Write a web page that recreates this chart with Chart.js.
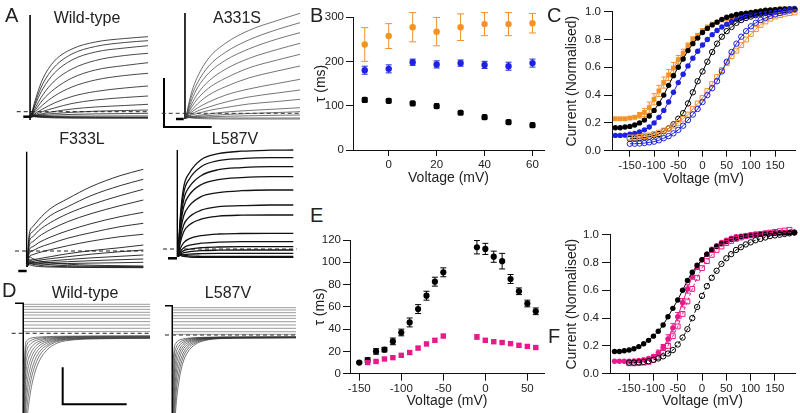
<!DOCTYPE html>
<html>
<head>
<meta charset="utf-8">
<script src="https://cdn.jsdelivr.net/npm/chart.js@4.4.1/dist/chart.umd.min.js"></script>
<style>
  html, body { margin: 0; padding: 0; background: #fff; }
  #fig { position: relative; width: 800px; height: 413px; overflow: hidden; font-family: 'Liberation Sans', Arial, sans-serif; color: #222; }
  #fig canvas { position: absolute; }
  .letter { position: absolute; font-size: 20px; line-height: 20px; z-index: 2; }
  .name { position: absolute; font-size: 16px; line-height: 16px; transform: translateX(-50%); white-space: nowrap; z-index: 2; }
</style>
</head>
<body>
<div id="fig">
  <div class="letter" style="left:5px;top:5px">A</div>
  <div class="letter" style="left:310px;top:5px">B</div>
  <div class="letter" style="left:547px;top:5px">C</div>
  <div class="letter" style="left:2px;top:280px">D</div>
  <div class="letter" style="left:310px;top:205px">E</div>
  <div class="letter" style="left:548px;top:326px">F</div>
  <div class="name" style="left:87px;top:10px">Wild-type</div>
  <div class="name" style="left:237px;top:10px">A331S</div>
  <div class="name" style="left:82px;top:131px">F333L</div>
  <div class="name" style="left:235px;top:131px">L587V</div>
  <div class="name" style="left:85px;top:285px">Wild-type</div>
  <div class="name" style="left:228px;top:285px">L587V</div>
</div>
<script>
// ---- panel B: activation tau vs voltage ----
const V_B = [-10, 0, 10, 20, 30, 40, 50, 60];
const B_BLACK = [113, 111, 105, 99, 84, 74, 63, 56];
const B_BLACK_ERR = [5, 4, 4, 5, 3, 3, 2, 2];
const B_BLUE = [180, 183, 198, 193, 196, 192, 189, 196];
const B_BLUE_ERR = [9, 9, 7, 8, 7, 8, 9, 9];
const B_ORANGE = [238, 257, 277, 267, 277, 284, 284, 286];
const B_ORANGE_ERR = [38, 28, 33, 32, 30, 26, 26, 22];
const B_XTICKS = [0, 20, 40, 60];
const B_YTICKS = [0, 100, 200, 300];

// ---- panels C and F: normalised current vs voltage ----
const V_FULL = [-180, -170, -160, -150, -140, -130, -120, -110, -100, -90, -80, -70, -60, -50, -40, -30, -20, -10,
  0, 10, 20, 30, 40, 50, 60, 70, 80, 90, 100, 110, 120, 130, 140, 150, 160, 170, 180, 190];
const V_OPEN = [-150, -140, -130, -120, -110, -100, -90, -80, -70, -60, -50, -40, -30, -20, -10,
  0, 10, 20, 30, 40, 50, 60, 70, 80, 90, 100, 110, 120, 130, 140, 150, 160, 170, 180, 190];
const C_ORANGE_FILLED = [0.23, 0.23, 0.23, 0.235, 0.24, 0.255, 0.275, 0.31, 0.37, 0.43, 0.49, 0.545, 0.595, 0.655, 0.70, 0.755, 0.80, 0.83,
  0.865, 0.89, 0.91, 0.925, 0.94, 0.95, 0.96, 0.97, 0.98, 0.985, 0.99, 0.995, 1.0, 1.005, 1.01, 1.015, 1.02, 1.02, 1.02, 1.02];
const C_ORANGE_ERR = [0, 0, 0, 0, 0, 0.02, 0.03, 0.04, 0.04, 0.04, 0.04, 0.04, 0.04, 0.03, 0.03, 0.02, 0.02, 0.01,
  0, 0, 0, 0, 0, 0, 0, 0, 0, 0, 0, 0, 0, 0, 0, 0, 0, 0, 0, 0];
const C_BLACK_FILLED = [0.165, 0.165, 0.17, 0.175, 0.185, 0.20, 0.22, 0.25, 0.29, 0.34, 0.40, 0.47, 0.54, 0.60, 0.66, 0.72, 0.77, 0.81,
  0.85, 0.88, 0.905, 0.925, 0.945, 0.96, 0.97, 0.98, 0.985, 0.99, 0.995, 1.0, 1.005, 1.01, 1.012, 1.015, 1.018, 1.02, 1.02, 1.02];
const C_BLUE_FILLED = [0.11, 0.11, 0.112, 0.118, 0.125, 0.135, 0.15, 0.17, 0.20, 0.24, 0.29, 0.35, 0.42, 0.49, 0.55, 0.61, 0.665, 0.715,
  0.76, 0.80, 0.835, 0.865, 0.89, 0.91, 0.93, 0.945, 0.955, 0.965, 0.975, 0.98, 0.985, 0.99, 0.995, 1.0, 1.005, 1.01, 1.02, 1.03];
const C_BLACK_OPEN = [0.085, 0.087, 0.09, 0.095, 0.10, 0.11, 0.12, 0.14, 0.16, 0.19, 0.23, 0.27, 0.34, 0.42, 0.50,
  0.57, 0.64, 0.71, 0.77, 0.82, 0.86, 0.89, 0.92, 0.94, 0.955, 0.965, 0.975, 0.985, 0.99, 0.995, 1.0, 1.005, 1.01, 1.01, 1.015];
const C_ORANGE_OPEN = [0.095, 0.095, 0.10, 0.105, 0.11, 0.12, 0.13, 0.145, 0.16, 0.18, 0.20, 0.23, 0.26, 0.30, 0.34,
  0.38, 0.43, 0.48, 0.53, 0.58, 0.63, 0.68, 0.72, 0.76, 0.80, 0.84, 0.875, 0.905, 0.93, 0.95, 0.965, 0.975, 0.985, 0.99, 0.995];
const C_BLUE_OPEN = [0.05, 0.05, 0.052, 0.055, 0.06, 0.065, 0.075, 0.09, 0.105, 0.125, 0.15, 0.18, 0.22, 0.26, 0.30,
  0.35, 0.40, 0.45, 0.50, 0.57, 0.64, 0.71, 0.77, 0.82, 0.86, 0.895, 0.92, 0.94, 0.955, 0.97, 0.98, 0.99, 1.0, 1.01, 1.02];
const F_BLACK_FILLED = [0.16, 0.16, 0.165, 0.17, 0.18, 0.195, 0.215, 0.24, 0.27, 0.305, 0.35, 0.41, 0.47, 0.53, 0.60, 0.67, 0.73, 0.78,
  0.82, 0.86, 0.89, 0.915, 0.935, 0.95, 0.965, 0.975, 0.985, 0.99, 0.995, 1.0, 1.003, 1.006, 1.008, 1.01, 1.012, 1.013, 1.014, 1.015];
const F_BLACK_OPEN = [0.08, 0.08, 0.082, 0.085, 0.09, 0.10, 0.11, 0.125, 0.145, 0.17, 0.21, 0.26, 0.32, 0.40, 0.48,
  0.56, 0.63, 0.69, 0.74, 0.79, 0.83, 0.86, 0.89, 0.91, 0.93, 0.945, 0.96, 0.97, 0.98, 0.99, 0.995, 1.0, 1.005, 1.01, 1.015];
const F_MAG_FILLED = [0.09, 0.09, 0.09, 0.09, 0.092, 0.095, 0.10, 0.11, 0.125, 0.15, 0.19, 0.25, 0.33, 0.41, 0.51, 0.61, 0.70, 0.77,
  0.82, 0.86, 0.895, 0.92, 0.945, 0.96, 0.975, 0.985, 0.99, 0.995, 1.0, 1.005, 1.008, 1.01, 1.012, 1.014, 1.015, 1.016, 1.017, 1.018];
const F_MAG_ERR = [0, 0, 0, 0, 0, 0, 0, 0, 0.01, 0.02, 0.02, 0.03, 0.03, 0.03, 0.03, 0.03, 0.02, 0.02,
  0, 0, 0, 0, 0, 0, 0, 0, 0, 0, 0, 0, 0, 0, 0, 0, 0, 0, 0, 0];
const F_MAG_OPEN = [0.075, 0.075, 0.077, 0.08, 0.085, 0.10, 0.12, 0.15, 0.20, 0.27, 0.34, 0.43, 0.52, 0.61, 0.69,
  0.76, 0.81, 0.855, 0.89, 0.915, 0.94, 0.955, 0.97, 0.98, 0.99, 0.995, 1.0, 1.005, 1.01, 1.015, 1.02, 1.025, 1.03, 1.035, 1.04];
const CF_XTICKS = [-150, -100, -50, 0, 50, 100, 150];
const CF_YTICKS = [0, 0.2, 0.4, 0.6, 0.8, 1.0];

// ---- panel E: tau vs voltage ----
const V_E_NEG = [-150, -140, -130, -120, -110, -100, -90, -80, -70, -60, -50];
const E_BLACK_NEG = [10, 12.3, 20, 21.6, 29, 37, 46, 58, 70, 82.6, 91];
const E_BLACK_NEG_ERR = [1, 2, 2.5, 2, 3, 3, 4, 4, 4, 4, 4];
const V_E_POS = [-10, 0, 10, 20, 30, 40, 50, 60];
const E_BLACK_POS = [113.5, 112, 105, 101, 85, 74, 63, 56];
const E_BLACK_POS_ERR = [6, 5, 5, 7, 4, 3, 3, 3];
const V_E_MAG_NEG = [-140, -130, -120, -110, -100, -90, -80, -70, -60, -50];
const E_MAG_NEG = [10, 11, 13.2, 14.4, 16.5, 19, 23, 26.7, 30, 33.8];
const E_MAG_NEG_ERR = [0.8, 0.8, 1, 1, 1, 1.2, 1.5, 1.5, 1.5, 1.5];
const E_MAG_POS = [33, 30, 28.7, 28, 27, 25.5, 24.5, 23.5];
const E_MAG_POS_ERR = [2, 1.5, 1.2, 1, 1, 1, 1, 1];
const E_XTICKS = [-150, -100, -50, 0, 50];
const E_YTICKS = [0, 20, 40, 60, 80, 100, 120];

// ---- panels A and D: current traces (time in ms, current in arbitrary units) ----
const T_ACT = [0, 20, 50, 100, 200, 350, 550, 800, 1000];
const WT_A = [
  [0, 10, 22, 38, 56, 68, 75, 78.5, 80.3],
  [0, 8, 19, 33, 50, 63, 70.5, 74.5, 76.3],
  [0, 7, 16, 28, 44, 57, 65, 69, 71.3],
  [0, 5, 12, 22, 36, 48, 56.5, 61.5, 63.7],
  [0, 4, 9, 17, 28, 39, 47, 51.5, 54.3],
  [0, 3, 6.5, 12, 21, 30, 37, 41.5, 43.7],
  [0, 2, 4.5, 8, 14, 20.5, 25.5, 29, 31],
  [0, 1.5, 3, 5.5, 9, 13.5, 17, 19.5, 21],
  [0, 1, 2, 3.5, 5.5, 8, 10, 11.5, 12.7],
  [0, 0.8, 1.5, 2.5, 3.5, 4.7, 5.8, 6.5, 7],
  [0, 0.5, 1, 1.5, 2, 2.6, 3.1, 3.4, 3.7],
  [0, 0.3, 0.5, 0.6, 0.7, 0.8, 0.9, 1, 1],
  [6, 3, 1.5, 0.8, 0.3, 0, -0.2, -0.3, -0.3],
  [4, 1.5, 0.5, 0, -0.4, -0.6, -0.7, -0.7, -0.7],
  [3, 0.8, 0, -0.5, -0.9, -1.1, -1.2, -1.2, -1.2]
];
const A331S_A = [
  [0, 12, 26, 41, 60, 75, 87.5, 97.5, 104.7],
  [0, 10, 22, 35, 52, 66, 78, 88.5, 95.3],
  [0, 8, 18, 30, 45, 58, 69, 79, 85.3],
  [0, 6, 14, 24, 37, 49, 59.5, 68.5, 74.7],
  [0, 5, 11, 19, 30, 40, 50, 58, 63.7],
  [0, 4, 8, 14, 23, 31.5, 40, 47, 52],
  [0, 3, 6, 10, 16, 23, 29, 34.5, 38.7],
  [0, 2, 4, 7, 11, 16, 21, 25, 28],
  [0, 1.5, 3, 4.5, 7.5, 10.5, 14, 16.5, 18.7],
  [0, 1, 1.5, 2.5, 4, 6, 7.5, 9, 10.3],
  [0, 0.5, 1, 1.5, 2.5, 3.5, 4.5, 5.5, 6.3],
  [0, 0.3, 0.5, 0.8, 1.2, 1.7, 2.2, 2.7, 3],
  [5, 2.5, 1.2, 0.5, 0.2, 0, 0, 0, 0],
  [3, 1, 0, -0.5, -0.8, -1, -1, -1, -1]
];
const F333L_A = [
  [0, 33, 40, 47, 58, 68, 80, 91, 97.4],
  [0, 29, 35, 41, 51, 60, 71, 81, 87.4],
  [0, 25, 30, 36, 44, 53, 62, 71, 77.4],
  [0, 21, 25, 30, 37, 45, 53, 61, 66.7],
  [0, 17, 20, 24, 29.5, 36, 43, 50, 54.4],
  [0, 13.5, 16, 19, 23, 28.5, 34, 40, 43.4],
  [0, 10, 12, 14, 17, 21, 25.5, 30, 32.4],
  [0, 6, 7, 8, 10, 13, 16, 19, 21.7],
  [0, 5, 5.5, 6.5, 8, 10, 12.5, 15, 16.7],
  [0, 4, 4.2, 4.8, 5.8, 7.2, 8.8, 10.4, 11.7],
  [0, 3.5, 3.5, 3.8, 4.3, 5, 6, 7, 7.7],
  [0, 3, 2.8, 2.6, 2.8, 3.2, 3.6, 4, 4.4],
  [0, 10, 8, 6, 4, 2.5, 1.5, 1, 0.7],
  [0, 7, 5, 3.5, 2, 1, 0.5, 0.2, 0],
  [0, 4, 2.5, 1.5, 0.5, 0, -0.3, -0.4, -0.5],
  [0, 2, 1, 0.2, -0.3, -0.6, -0.8, -0.9, -1]
];
const L587V_A = [
  [0, 40, 70, 84, 97, 103, 105.5, 106.5, 106.7],
  [0, 36, 64, 78, 90, 96, 98, 99, 99],
  [0, 32, 57, 70, 81, 87, 89, 90, 90],
  [0, 28, 50, 62, 72, 77, 79, 80, 80],
  [0, 23, 41, 51, 60, 64, 66, 66.7, 66.7],
  [0, 18, 32, 40, 46.5, 50, 51, 51.7, 51.7],
  [0, 14, 25, 32, 37.5, 40.5, 41.5, 41.7, 41.7],
  [0, 8, 14, 18, 21, 22.7, 23.2, 23.4, 23.4],
  [0, 5, 9, 11.5, 13.5, 14.5, 15, 15, 15],
  [0, 3.5, 6, 7.5, 9, 9.7, 10, 10, 10],
  [0, 2.5, 4, 5, 6, 6.5, 6.7, 6.7, 6.7],
  [0, 1.5, 2, 2.6, 3, 3.3, 3.4, 3.4, 3.4],
  [6, 3, 1.5, 0.8, 0.4, 0.2, 0.2, 0.2, 0.2],
  [4, 1.5, 0.3, -0.3, -0.6, -0.7, -0.7, -0.7, -0.7]
];
const T_DEACT = [0, 10, 25, 50, 80, 120, 180, 260, 400, 600, 1000];
const WT_D_TAILS = [
  [-130, -110, -85, -60, -42, -28, -17, -10, -6.5, -5.5, -5],
  [-120, -95, -72, -50, -35, -23, -14, -8.5, -6, -5.2, -4.8],
  [-110, -82, -60, -42, -29, -19, -12, -7.5, -5.5, -5, -4.6],
  [-100, -70, -50, -34, -23, -15.5, -10, -6.8, -5.2, -4.7, -4.4],
  [-90, -58, -40, -27, -18.5, -12.5, -8.5, -6, -4.8, -4.4, -4.1],
  [-80, -47, -31, -21, -14.5, -10, -7.2, -5.3, -4.4, -4.1, -3.8],
  [-70, -37, -23, -15.5, -11, -8, -6, -4.7, -4, -3.7, -3.5],
  [-60, -28, -16, -11, -8, -6.2, -5, -4.2, -3.6, -3.3, -3.1],
  [-50, -20, -11, -7.5, -5.8, -4.8, -4.1, -3.6, -3.2, -3, -2.8],
  [-40, -13, -7, -5, -4.2, -3.7, -3.3, -3, -2.8, -2.6, -2.5]
];
const WT_D_FLAT = [29, 26.7, 24, 21, 18.3, 15, 11.7, 8.3, 5, 1.7];
const L587V_D_TAILS = [
  [-130, -100, -70, -45, -28, -17, -9.5, -5.5, -3.5, -3, -2.8],
  [-115, -85, -58, -37, -23, -14, -8, -4.8, -3.3, -2.9, -2.7],
  [-100, -72, -48, -30, -19, -11.5, -6.8, -4.3, -3.1, -2.8, -2.6],
  [-88, -60, -39, -24, -15, -9.5, -5.8, -3.9, -2.9, -2.7, -2.5],
  [-76, -49, -31, -19, -12, -7.7, -5, -3.5, -2.8, -2.6, -2.4],
  [-64, -39, -24, -15, -9.5, -6.3, -4.3, -3.2, -2.6, -2.4, -2.3],
  [-52, -30, -18, -11, -7.3, -5, -3.7, -2.9, -2.4, -2.3, -2.2],
  [-40, -21, -12.5, -8, -5.5, -4, -3.1, -2.6, -2.2, -2.1, -2],
  [-28, -13, -8, -5.3, -4, -3.2, -2.6, -2.3, -2, -1.9, -1.8]
];
const L587V_D_FLAT = [27.3, 25, 22.3, 19.3, 16.7, 13.3, 10, 6.7, 3.3, 0.7];

// spikes, holding levels, zero-current lines and scale bars, in each panel's units
const WT_A_SPIKE = [[-8, -3], [-8, 102]];
const WT_A_HOLD = [[-66, 0.3], [-8, 0.3]];
const WT_A_ZERO = [[-122, 5.3], [1000, 5.3]];
const A331S_SPIKE = [[-9, -1], [-9, 105]];
const A331S_HOLD = [[-88, -1], [-20, -1]];
const A331S_ZERO = [[-213, 4.7], [1000, 4.7]];
const A331S_BAR = [[-193, 40], [-193, -9], [225, -9]];
const F333L_SPIKE = [[-3, 2], [-3, 115]];
const F333L_HOLD = [[-75, -4.3], [-3, -4.3]];
const F333L_ZERO = [[-103, 15.7], [1000, 15.7]];
const L587V_A_SPIKE = [[-6, 0], [-6, 106.7]];
const L587V_A_HOLD = [[-87, -1.6], [-9, -1.6]];
const L587V_A_ZERO = [[-130, 7.7], [1029, 7.7]];
const WT_D_STEP = [[-71, 30], [-6, 30], [-6, -85]];
const WT_D_ZERO = [[-98, 0], [1000, 0]];
const WT_D_BAR = [[307, -34], [307, -71], [815, -71]];
const L587V_D_STEP = [[-65, 29.3], [-6, 29.3], [-6, -85]];
const L587V_D_ZERO = [[-65, 0], [1000, 0]];

const ORANGE = '#f2922a';
const BLUE = '#1c22e0';
const MAGENTA = '#e8198b';
const BLACK = '#000';

Chart.defaults.font.family = "'Liberation Sans', Arial, sans-serif";
Chart.defaults.color = '#222';

const fig = document.getElementById('fig');
function addCanvas(r) {
    const c = document.createElement('canvas');
    c.width = r.w;
    c.height = r.h;
    c.style.left = r.x + 'px';
    c.style.top = r.y + 'px';
    c.style.width = r.w + 'px';
    c.style.height = r.h + 'px';
    fig.appendChild(c);
    return c;
}

const pts = (xs, ys) => xs.map((x, i) => ({ x, y: ys[i] }));

// vertical error bars with caps, drawn under the markers
const errorBars = {
    id: 'errorBars',
    beforeDatasetsDraw(chart) {
        const { ctx, scales: { x, y } } = chart;
        chart.data.datasets.forEach(ds => {
            if (!ds.errors) return;
            ctx.save();
            ctx.strokeStyle = ds.errorColor || ds.borderColor;
            ctx.lineWidth = 1;
            ds.data.forEach((p, i) => {
                const e = ds.errors[i];
                if (!e) return;
                const px = x.getPixelForValue(p.x);
                const top = y.getPixelForValue(p.y + e);
                const bot = y.getPixelForValue(p.y - e);
                const cap = ds.capWidth || 3;
                ctx.beginPath();
                ctx.moveTo(px, top); ctx.lineTo(px, bot);
                ctx.moveTo(px - cap, top); ctx.lineTo(px + cap, top);
                ctx.moveTo(px - cap, bot); ctx.lineTo(px + cap, bot);
                ctx.stroke();
            });
            ctx.restore();
        });
    }
};

function axis(range, ticks, title, size, horizontal, fmt, tickLen, pad) {
    return {
        type: 'linear',
        min: range[0],
        max: range[1],
        afterBuildTicks: s => { s.ticks = ticks.map(v => ({ value: v })); },
        afterFit: s => { if (horizontal) s.height = size; else s.width = size; },
        border: { display: true, color: '#111', width: 1 },
        grid: { display: true, drawOnChartArea: false, drawTicks: true, tickLength: tickLen, color: '#111', tickColor: '#111' },
        ticks: { color: '#222', font: { size: 11.5 }, padding: pad, autoSkip: false, maxRotation: 0, callback: fmt },
        title: { display: true, text: title, color: '#222', font: { size: 14 }, padding: { top: 4, bottom: 3 } }
    };
}

function plotChart(r, cfg) {
    new Chart(addCanvas(r), {
        type: 'scatter',
        data: { datasets: cfg.datasets },
        options: {
            responsive: false,
            animation: false,
            events: [],
            layout: { padding: { top: cfg.padTop, right: cfg.padRight, left: 0, bottom: 0 } },
            plugins: { legend: { display: false }, tooltip: { enabled: false } },
            scales: {
                x: axis(cfg.xr, cfg.xTicks, 'Voltage (mV)', r.h - cfg.bottom + r.y, true, cfg.fmtX, cfg.xTick, cfg.xPad),
                y: axis(cfg.yr, cfg.yTicks, cfg.yTitle, cfg.left - r.x, false, cfg.fmtY, cfg.yTick, cfg.yPad)
            }
        },
        plugins: [errorBars]
    });
}

function markers(xs, ys, color, style, radius, extra) {
    return Object.assign({
        data: pts(xs, ys),
        pointStyle: style,
        pointRadius: radius,
        pointBackgroundColor: color,
        pointBorderColor: color,
        pointBorderWidth: 0,
        borderColor: color,
        borderWidth: 1,
        showLine: false,
        clip: false
    }, extra || {});
}

function openMarkers(xs, ys, color, style, radius, extra) {
    return markers(xs, ys, color, style, radius, Object.assign({
        pointBackgroundColor: 'rgba(255,255,255,0)',
        pointBorderWidth: 1
    }, extra || {}));
}

const fmtInt = v => String(v);
const fmt1 = v => v.toFixed(1);

// ---- B ----
plotChart({ x: 309, y: 0, w: 239, h: 190 }, {
    padTop: 17, padRight: 2.3, left: 353, bottom: 150,
    xr: [-14.9, 64.8], yr: [0, 300], xTicks: B_XTICKS, yTicks: B_YTICKS,
    yTitle: 'τ (ms)', fmtX: fmtInt, fmtY: fmtInt, xTick: 6, xPad: 2, yTick: 7, yPad: 2,
    datasets: [
        markers(V_B, B_ORANGE, ORANGE, 'circle', 3.2, { errors: B_ORANGE_ERR, capWidth: 3.5 }),
        markers(V_B, B_BLUE, BLUE, 'circle', 3.2, { errors: B_BLUE_ERR, capWidth: 3 }),
        markers(V_B, B_BLACK, BLACK, 'rectRounded', 3.6, { errors: B_BLACK_ERR, capWidth: 2.5 })
    ]
});

// ---- C ----
const fitLine = { showLine: true, borderWidth: 1 };
plotChart({ x: 560, y: 0, w: 240, h: 191 }, {
    padTop: 11.7, padRight: 4, left: 612, bottom: 150.7,
    xr: [-186.9, 191], yr: [0, 1], xTicks: CF_XTICKS, yTicks: CF_YTICKS,
    yTitle: 'Current (Normalised)', fmtX: fmtInt, fmtY: fmt1, xTick: 6, xPad: 2, yTick: 8, yPad: 3,
    datasets: [
        openMarkers(V_OPEN, C_BLUE_OPEN, BLUE, 'circle', 2.7, fitLine),
        openMarkers(V_OPEN, C_ORANGE_OPEN, ORANGE, 'rect', 3.4, fitLine),
        openMarkers(V_OPEN, C_BLACK_OPEN, BLACK, 'circle', 2.7, fitLine),
        markers(V_FULL, C_BLUE_FILLED, BLUE, 'circle', 2.7, fitLine),
        markers(V_FULL, C_BLACK_FILLED, BLACK, 'circle', 2.7, fitLine),
        markers(V_FULL, C_ORANGE_FILLED, ORANGE, 'rect', 3.4, Object.assign({ errors: C_ORANGE_ERR, capWidth: 2.5 }, fitLine))
    ]
});

// ---- E ----
plotChart({ x: 308, y: 230, w: 240, h: 183 }, {
    padTop: 10, padRight: 3, left: 350, bottom: 373.7,
    xr: [-161, 69.8], yr: [0, 120], xTicks: E_XTICKS, yTicks: E_YTICKS,
    yTitle: 'τ (ms)', fmtX: fmtInt, fmtY: fmtInt, xTick: 7, xPad: 1, yTick: 7, yPad: 2,
    datasets: [
        markers(V_E_MAG_NEG, E_MAG_NEG, MAGENTA, 'rect', 3.8, { errors: E_MAG_NEG_ERR, capWidth: 2.5 }),
        markers(V_E_POS, E_MAG_POS, MAGENTA, 'rect', 3.8, { errors: E_MAG_POS_ERR, capWidth: 2.5 }),
        markers(V_E_NEG, E_BLACK_NEG, BLACK, 'circle', 3.1, { errors: E_BLACK_NEG_ERR, capWidth: 3 }),
        markers(V_E_POS, E_BLACK_POS, BLACK, 'circle', 3.1, { errors: E_BLACK_POS_ERR, capWidth: 3 })
    ]
});

// ---- F ----
plotChart({ x: 560, y: 224, w: 240, h: 189 }, {
    padTop: 10.7, padRight: 3, left: 610, bottom: 373.7,
    xr: [-189.3, 191.3], yr: [0, 1], xTicks: CF_XTICKS, yTicks: CF_YTICKS,
    yTitle: 'Current (Normalised)', fmtX: fmtInt, fmtY: fmt1, xTick: 7, xPad: 1, yTick: 8, yPad: 3,
    datasets: [
        openMarkers(V_OPEN, F_BLACK_OPEN, BLACK, 'circle', 2.7, { showLine: true, borderWidth: 1, borderDash: [3, 2] }),
        openMarkers(V_OPEN, F_MAG_OPEN, MAGENTA, 'rect', 3.4, { showLine: true, borderWidth: 1, borderDash: [3, 2] }),
        markers(V_FULL, F_BLACK_FILLED, BLACK, 'circle', 2.7, fitLine),
        markers(V_FULL, F_MAG_FILLED, MAGENTA, 'circle', 2.7, Object.assign({ errors: F_MAG_ERR, capWidth: 2.5 }, fitLine))
    ]
});

// ---- trace panels ----
function traceSets(times, rows, color, width) {
    return rows.map(vals => ({
        data: times.map((t, i) => ({ x: t, y: vals[i] })),
        borderColor: color,
        borderWidth: width,
        pointRadius: 0,
        cubicInterpolationMode: 'monotone'
    }));
}
function flatSets(levels, color, width) {
    return levels.map(v => ({
        data: [{ x: 0, y: v }, { x: 1000, y: v }],
        borderColor: color,
        borderWidth: width,
        pointRadius: 0
    }));
}
function polyline(p, color, width, dash) {
    return {
        data: p.map(q => ({ x: q[0], y: q[1] })),
        borderColor: color,
        borderWidth: width,
        borderDash: dash || [],
        pointRadius: 0,
        tension: 0
    };
}

function tracePanel(p, sets) {
    const r = p.rect;
    new Chart(addCanvas(r), {
        type: 'line',
        data: { datasets: sets },
        options: {
            responsive: false,
            animation: false,
            events: [],
            layout: { padding: 0 },
            plugins: { legend: { display: false }, tooltip: { enabled: false } },
            elements: { point: { radius: 0 }, line: { fill: false } },
            scales: {
                x: { type: 'linear', display: false, min: (r.x - p.x0) / p.kx, max: (r.x + r.w - p.x0) / p.kx },
                y: { type: 'linear', display: false, min: p.y0 - r.y - r.h, max: p.y0 - r.y }
            }
        }
    });
}

const dash = [4, 3];

tracePanel({ x0: 31, kx: 0.117, y0: 117, rect: { x: 14, y: 10, w: 138, h: 114 } }, [
    ...traceSets(T_ACT, WT_A, '#1a1a1a', 0.8),
    polyline(WT_A_ZERO, '#222', 1, dash),
    polyline(WT_A_SPIKE, '#000', 1.6),
    polyline(WT_A_HOLD, '#000', 2.5)
]);

tracePanel({ x0: 186, kx: 0.114, y0: 118, rect: { x: 158, y: 8, w: 146, h: 124 } }, [
    ...traceSets(T_ACT, A331S_A, '#3a3a3a', 0.7),
    polyline(A331S_ZERO, '#333', 1, dash),
    polyline(A331S_SPIKE, '#000', 1.6),
    polyline(A331S_HOLD, '#000', 2.5),
    polyline(A331S_BAR, '#000', 2)
]);

tracePanel({ x0: 27, kx: 0.1163, y0: 266.7, rect: { x: 12, y: 146, w: 136, h: 130 } }, [
    ...traceSets(T_ACT, F333L_A, '#1a1a1a', 0.9),
    polyline(F333L_ZERO, '#222', 1, dash),
    polyline(F333L_SPIKE, '#000', 1.4),
    polyline(F333L_HOLD, '#000', 2.5)
]);

tracePanel({ x0: 178, kx: 0.1153, y0: 256.7, rect: { x: 160, y: 144, w: 142, h: 120 } }, [
    ...traceSets(T_ACT, L587V_A, '#111', 1.3),
    polyline(L587V_A_ZERO, '#222', 1, dash),
    polyline(L587V_A_SPIKE, '#000', 1.4),
    polyline(L587V_A_HOLD, '#000', 2.5)
]);

tracePanel({ x0: 24, kx: 0.126, y0: 333.3, rect: { x: 6, y: 298, w: 148, h: 115 } }, [
    ...flatSets(WT_D_FLAT, '#555', 0.6),
    ...traceSets(T_DEACT, WT_D_TAILS, '#444', 0.7),
    polyline(WT_D_ZERO, '#222', 1, dash),
    polyline(WT_D_STEP, '#000', 1.5),
    polyline(WT_D_BAR, '#000', 2)
]);

tracePanel({ x0: 173, kx: 0.123, y0: 335, rect: { x: 158, y: 298, w: 145, h: 115 } }, [
    ...flatSets(L587V_D_FLAT, '#555', 0.6),
    ...traceSets(T_DEACT, L587V_D_TAILS, '#333', 0.7),
    polyline(L587V_D_ZERO, '#222', 1, dash),
    polyline(L587V_D_STEP, '#000', 1.5)
]);
</script>
</body>
</html>
